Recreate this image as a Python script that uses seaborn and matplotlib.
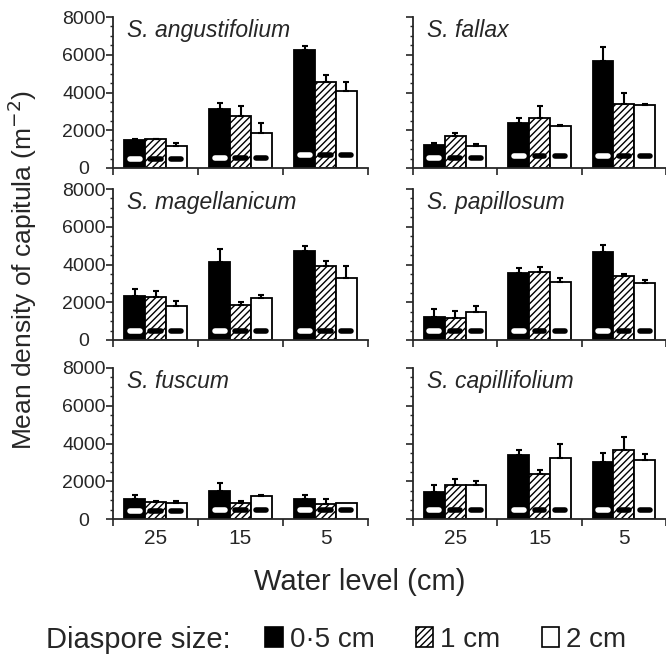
import numpy as np
import pandas as pd
import matplotlib
matplotlib.use('Agg')
import matplotlib.pyplot as plt
import seaborn as sns
from matplotlib.patches import Patch
from matplotlib.ticker import MultipleLocator

sns.set_style('ticks')
plt.rcParams['font.family'] = ['Liberation Sans', 'DejaVu Sans']
plt.rcParams['hatch.linewidth'] = 1.0

# ---------------- data ----------------
species = ['S. angustifolium', 'S. fallax', 'S. magellanicum',
           'S. papillosum', 'S. fuscum', 'S. capillifolium']
water_levels = ['25', '15', '5']
sizes = ['0·5 cm', '1 cm', '2 cm']
y_ticks = [0, 2000, 4000, 6000, 8000]

# mean density, rows = diaspore size, columns = water level (25, 15, 5)
mean_angustifolium = [[1480, 3150, 6250], [1510, 2770, 4560], [1160, 1860, 4090]]
err_angustifolium = [[60, 280, 210], [40, 490, 350], [175, 520, 440]]
mean_fallax = [[1200, 2400, 5690], [1700, 2650, 3380], [1160, 2200, 3360]]
err_fallax = [[125, 250, 730], [180, 620, 580], [125, 70, 30]]
mean_magellanicum = [[2330, 4110, 4740], [2260, 1850, 3925], [1780, 2220, 3280]]
err_magellanicum = [[370, 700, 220], [350, 150, 240], [300, 150, 650]]
mean_papillosum = [[1210, 3550, 4680], [1180, 3590, 3410], [1500, 3070, 3000]]
err_papillosum = [[410, 270, 340], [340, 290, 90], [320, 220, 200]]
mean_fuscum = [[1060, 1470, 1060], [885, 850, 815], [830, 1200, 830]]
err_fuscum = [[200, 440, 200], [90, 120, 230], [140, 60, 0]]
mean_capillifolium = [[1410, 3390, 3035], [1785, 2360, 3640], [1800, 3250, 3140]]
err_capillifolium = [[375, 250, 465], [320, 215, 720], [215, 700, 290]]

# short horizontal marks inside the bars (per water level)
dash_angustifolium = [470, 550, 680]
dash_fallax = [535, 620, 660]
dash_magellanicum = [480, 480, 480]
dash_papillosum = [465, 465, 465]
dash_fuscum = [420, 470, 460]
dash_capillifolium = [500, 500, 500]

means = [mean_angustifolium, mean_fallax, mean_magellanicum,
         mean_papillosum, mean_fuscum, mean_capillifolium]
errs = [err_angustifolium, err_fallax, err_magellanicum,
        err_papillosum, err_fuscum, err_capillifolium]
dashes = [dash_angustifolium, dash_fallax, dash_magellanicum,
          dash_papillosum, dash_fuscum, dash_capillifolium]

rows = []
for sp, m, e, d in zip(species, means, errs, dashes):
    for i, sz in enumerate(sizes):
        for j, wl in enumerate(water_levels):
            rows.append(dict(species=sp, size=sz, water=wl,
                             density=m[i][j], err=e[i][j], dash=d[j]))
df = pd.DataFrame(rows)

# ---------------- figure ----------------
W, H = 666, 655
fig = plt.figure(figsize=(W / 100, H / 100), dpi=100)

tops = [17, 189, 368]
lefts = [113, 413]
widths = [255, 253]
ah = 151

palette = {'0·5 cm': 'black', '1 cm': 'white', '2 cm': 'white'}

for k, sp in enumerate(species):
    r, c = divmod(k, 2)
    ax = fig.add_axes([lefts[c] / W, (H - tops[r] - ah) / H, widths[c] / W, ah / H])
    sub = df[df.species == sp]
    sns.barplot(data=sub, x='water', y='density', hue='size',
                order=water_levels, hue_order=sizes, palette=palette,
                edgecolor='black', linewidth=1.3, width=0.74, saturation=1,
                errorbar=None, legend=False, ax=ax, zorder=2)
    bar_containers = list(ax.containers)
    for i, cont in enumerate(bar_containers):
        sz = sizes[i]
        for j, bar in enumerate(cont):
            rec = sub[(sub['size'] == sz) & (sub.water == water_levels[j])].iloc[0]
            xc = bar.get_x() + bar.get_width() / 2
            if i == 1:
                bar.set_hatch('/////')
            if rec.err > 0:
                ax.errorbar([xc], [rec.density], yerr=[[0], [rec.err]], fmt='none',
                            ecolor='black', elinewidth=1.5, capsize=2.5, capthick=1.5,
                            zorder=3)
            hw = bar.get_width() * 0.24
            ax.hlines(rec.dash, xc - hw, xc + hw,
                      colors='white' if i == 0 else 'black',
                      linewidth=4, capstyle='round', zorder=4)

    ax.set_xlim(-0.5, 2.5 if c == 0 else 2.45)
    ax.set_ylim(0, 8000)
    ax.yaxis.set_minor_locator(MultipleLocator(500))
    ax.set_xticks([-0.5, 0.5, 1.5, 2.5])
    ax.set_xticklabels([])
    ax.set_xticks([0, 1, 2], minor=True)
    if r == 2:
        ax.set_xticklabels(water_levels, minor=True, fontsize=15)
    else:
        ax.set_xticklabels([], minor=True)
    ax.tick_params(axis='x', which='minor', length=0, pad=7)
    ax.tick_params(axis='x', which='major', length=5, width=1.2, direction='out')
    ax.tick_params(axis='y', which='major', length=5, width=1.2, direction='out',
                   labelsize=14, pad=16)
    ax.tick_params(axis='y', which='minor', length=2.5, width=1.0, direction='out')
    if c == 0:
        ax.set_yticks(y_ticks, labels=[str(v) for v in y_ticks], ha='center')
    else:
        ax.set_yticks(y_ticks, labels=[])
    ax.set_xlabel('')
    ax.set_ylabel('')
    sns.despine(ax=ax)
    for s in ['left', 'bottom']:
        ax.spines[s].set_linewidth(1.3)
    ax.text(0.055, 0.985, sp, transform=ax.transAxes, ha='left', va='top',
            fontsize=16.5, style='italic')

fig.text(22 / W, 1 - 270 / H, 'Mean density of capitula (m$^{-2}$)',
         rotation=90, ha='center', va='center', fontsize=19)
fig.text(360 / W, 1 - 582 / H, 'Water level (cm)', ha='center', va='center',
         fontsize=21)

fig.text(46 / W, 1 - 640 / H, 'Diaspore size:', ha='left', va='center', fontsize=21)
handles = [Patch(facecolor='black', edgecolor='black', linewidth=1.2),
           Patch(facecolor='white', edgecolor='black', hatch='/////', linewidth=1.2),
           Patch(facecolor='white', edgecolor='black', linewidth=1.2)]
fig.legend(handles=handles, labels=sizes, ncol=3, loc='center',
           bbox_to_anchor=(446 / W, 1 - 640 / H), frameon=False, fontsize=20,
           handlelength=0.62, handleheight=0.75, handletextpad=0.25,
           columnspacing=1.5, borderpad=0)

fig.savefig('out.png', dpi=100)
